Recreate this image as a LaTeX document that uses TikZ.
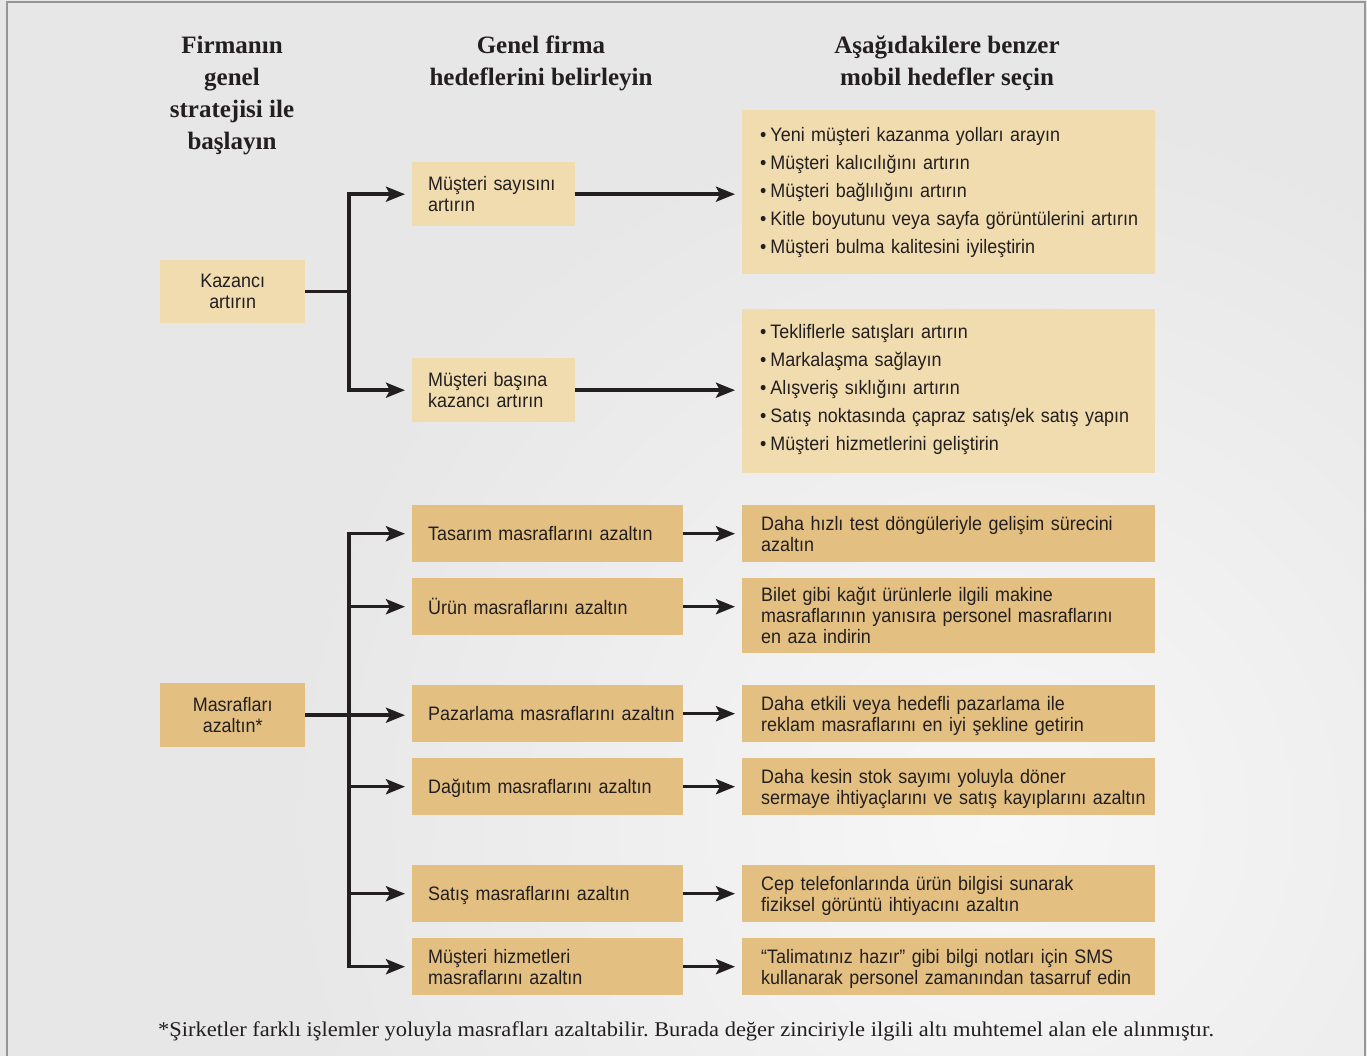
\documentclass[tikz,border=0pt]{standalone}
\usepackage{fontspec}
\setmainfont{Liberation Serif}
\newfontfamily\boxfont[FakeStretch=0.92]{Liberation Sans}
\newfontfamily\notefont[FakeStretch=1.07]{Liberation Serif}
\usetikzlibrary{arrows.meta}

\definecolor{paleocher}{RGB}{241,220,176}
\definecolor{ocher}{RGB}{227,192,129}
\definecolor{ink}{RGB}{35,31,32}
\definecolor{bglight}{RGB}{247,247,247}
\definecolor{bgdark}{RGB}{231,231,231}
\definecolor{framegray}{RGB}{150,150,150}

% one left-aligned block of lines that never wraps, set a little low in its box
\newcommand\boxlines[1]{\raisebox{-3pt}[\height][\depth]{\begin{tabular}{@{}l@{}}#1\end{tabular}}}
% bullet list block, kept at its natural place
\newcommand\bulletlines[1]{\begin{tabular}{@{}l@{}}#1\end{tabular}}
\newcommand\bul{•\hspace{4pt}}

\begin{document}
\begin{tikzpicture}[x=1pt,y=-1pt,
  base/.style={rectangle, anchor=north west, inner ysep=0pt, text=ink,
    font=\boxfont\fontsize{19.5}{21}\selectfont},
  pale/.style={base, fill=paleocher},
  dark/.style={base, fill=ocher},
  leftbox/.style={inner xsep=16pt, align=left},
  rightbox/.style={inner xsep=19pt, align=left},
  centerbox/.style={inner xsep=4pt, align=center},
  bullets/.style={font=\boxfont\fontsize{19.5}{28}\selectfont},
  hdr/.style={align=center, text=ink, font=\bfseries\fontsize{25}{32}\selectfont},
  wire/.style={draw=ink, line width=3.5pt},
  arr/.style={wire, -{Stealth[length=19pt,width=15pt,inset=4pt]}, shorten >=7pt}
]

% page background and frame
\useasboundingbox (0,0) rectangle (1367,1056);
\fill[bgdark] (0,0) rectangle (1367,1056);
\begin{scope}
  \clip (0,0) rectangle (1367,1056);
  \shade[inner color=bglight, outer color=bgdark] (1000,820) circle (720);
\end{scope}
\draw[framegray, line width=2pt] (7,1056) -- (7,2) -- (1365,2) -- (1365,1056);

% column headings
\node[hdr] (h1) at (232,96) {Firmanın\\genel\\stratejisi ile\\başlayın};
\node[hdr] (h2) at (541,63) {Genel firma\\hedeflerini belirleyin};
\node[hdr] (h3) at (947,63) {Aşağıdakilere benzer\\mobil hedefler seçin};

% overall strategies
\node[pale, centerbox, minimum width=145, minimum height=63] (k) at (160,260) {Kazancı\\artırın};
\node[dark, centerbox, minimum width=145, minimum height=64] (c) at (160,683) {Masrafları\\azaltın*};

% firm goals
\node[pale, leftbox, minimum width=163, minimum height=64, text width=131] (m1) at (412,162) {\boxlines{Müşteri sayısını\\artırın}};
\node[pale, leftbox, minimum width=163, minimum height=64, text width=131] (m2) at (412,358) {\boxlines{Müşteri başına\\kazancı artırın}};

\node[dark, leftbox, minimum width=271, minimum height=57, text width=239] (d1) at (412,505) {\boxlines{Tasarım masraflarını azaltın}};
\node[dark, leftbox, minimum width=271, minimum height=57, text width=239] (d2) at (412,578) {\boxlines{Ürün masraflarını azaltın}};
\node[dark, leftbox, minimum width=271, minimum height=57, text width=239] (d3) at (412,685) {\boxlines{Pazarlama masraflarını azaltın}};
\node[dark, leftbox, minimum width=271, minimum height=57, text width=239] (d4) at (412,758) {\boxlines{Dağıtım masraflarını azaltın}};
\node[dark, leftbox, minimum width=271, minimum height=57, text width=239] (d5) at (412,865) {\boxlines{Satış masraflarını azaltın}};
\node[dark, leftbox, minimum width=271, minimum height=57, text width=239] (d6) at (412,938) {\boxlines{Müşteri hizmetleri\\masraflarını azaltın}};

% mobile goals
\node[pale, bullets, inner xsep=18pt, align=left, minimum width=413, minimum height=164, text width=377] (g1) at (742,110)
  {\bulletlines{\bul Yeni müşteri kazanma yolları arayın\\\bul Müşteri kalıcılığını artırın\\\bul Müşteri bağlılığını artırın\\\bul Kitle boyutunu veya sayfa görüntülerini artırın\\\bul Müşteri bulma kalitesini iyileştirin}};
\node[pale, bullets, inner xsep=18pt, align=left, minimum width=413, minimum height=164, text width=377] (g2) at (742,309)
  {\raisebox{2pt}[\height][\depth]{\bulletlines{\bul Tekliflerle satışları artırın\\\bul Markalaşma sağlayın\\\bul Alışveriş sıklığını artırın\\\bul Satış noktasında çapraz satış/ek satış yapın\\\bul Müşteri hizmetlerini geliştirin}}};

\node[dark, rightbox, minimum width=413, minimum height=57, text width=375] (e1) at (742,505) {\boxlines{Daha hızlı test döngüleriyle gelişim sürecini\\azaltın}};
\node[dark, rightbox, minimum width=413, minimum height=75, text width=375] (e2) at (742,578) {\boxlines{Bilet gibi kağıt ürünlerle ilgili makine\\masraflarının yanısıra personel masraflarını\\en aza indirin}};
\node[dark, rightbox, minimum width=413, minimum height=57, text width=375] (e3) at (742,685) {\boxlines{Daha etkili veya hedefli pazarlama ile\\reklam masraflarını en iyi şekline getirin}};
\node[dark, rightbox, minimum width=413, minimum height=57, text width=375] (e4) at (742,758) {\boxlines{Daha kesin stok sayımı yoluyla döner\\sermaye ihtiyaçlarını ve satış kayıplarını azaltın}};
\node[dark, rightbox, minimum width=413, minimum height=57, text width=375] (e5) at (742,865) {\boxlines{Cep telefonlarında ürün bilgisi sunarak\\fiziksel görüntü ihtiyacını azaltın}};
\node[dark, rightbox, minimum width=413, minimum height=57, text width=375] (e6) at (742,938) {\boxlines{“Talimatınız hazır” gibi bilgi notları için SMS\\kullanarak personel zamanından tasarruf edin}};

% footnote
\node[text=ink, font=\notefont\fontsize{21}{24}\selectfont] (fn) at (686,1031)
  {\frenchspacing *Şirketler farklı işlemler yoluyla masrafları azaltabilir. Burada değer zinciriyle ilgili altı muhtemel alan ele alınmıştır.};

% branching trunks
\coordinate (trunk) at (349,0);

\draw[arr] (k.east) -| (trunk |- m1.west) -- (m1.west);
\draw[arr] (k.east -| trunk) |- (m2.west);

\draw[arr] (trunk |- d6.west) |- (d1.west);
\draw[arr] (trunk |- d2.west) -- (d2.west);
\draw[arr] (c.east) -- (c.east -| d3.west);
\draw[arr] (trunk |- d4.west) -- (d4.west);
\draw[arr] (trunk |- d5.west) -- (d5.west);
\draw[arr] (trunk |- d1.west) |- (d6.west);

% goal-to-mobile arrows
\draw[arr] (m1.east) -- (m1.east -| g1.west);
\draw[arr] (m2.east) -- (m2.east -| g2.west);
\draw[arr] (d1.east) -- (d1.east -| e1.west);
\draw[arr] (d2.east) -- (d2.east -| e2.west);
\draw[arr] (d3.east) -- (d3.east -| e3.west);
\draw[arr] (d4.east) -- (d4.east -| e4.west);
\draw[arr] (d5.east) -- (d5.east -| e5.west);
\draw[arr] (d6.east) -- (d6.east -| e6.west);

\end{tikzpicture}
\end{document}
